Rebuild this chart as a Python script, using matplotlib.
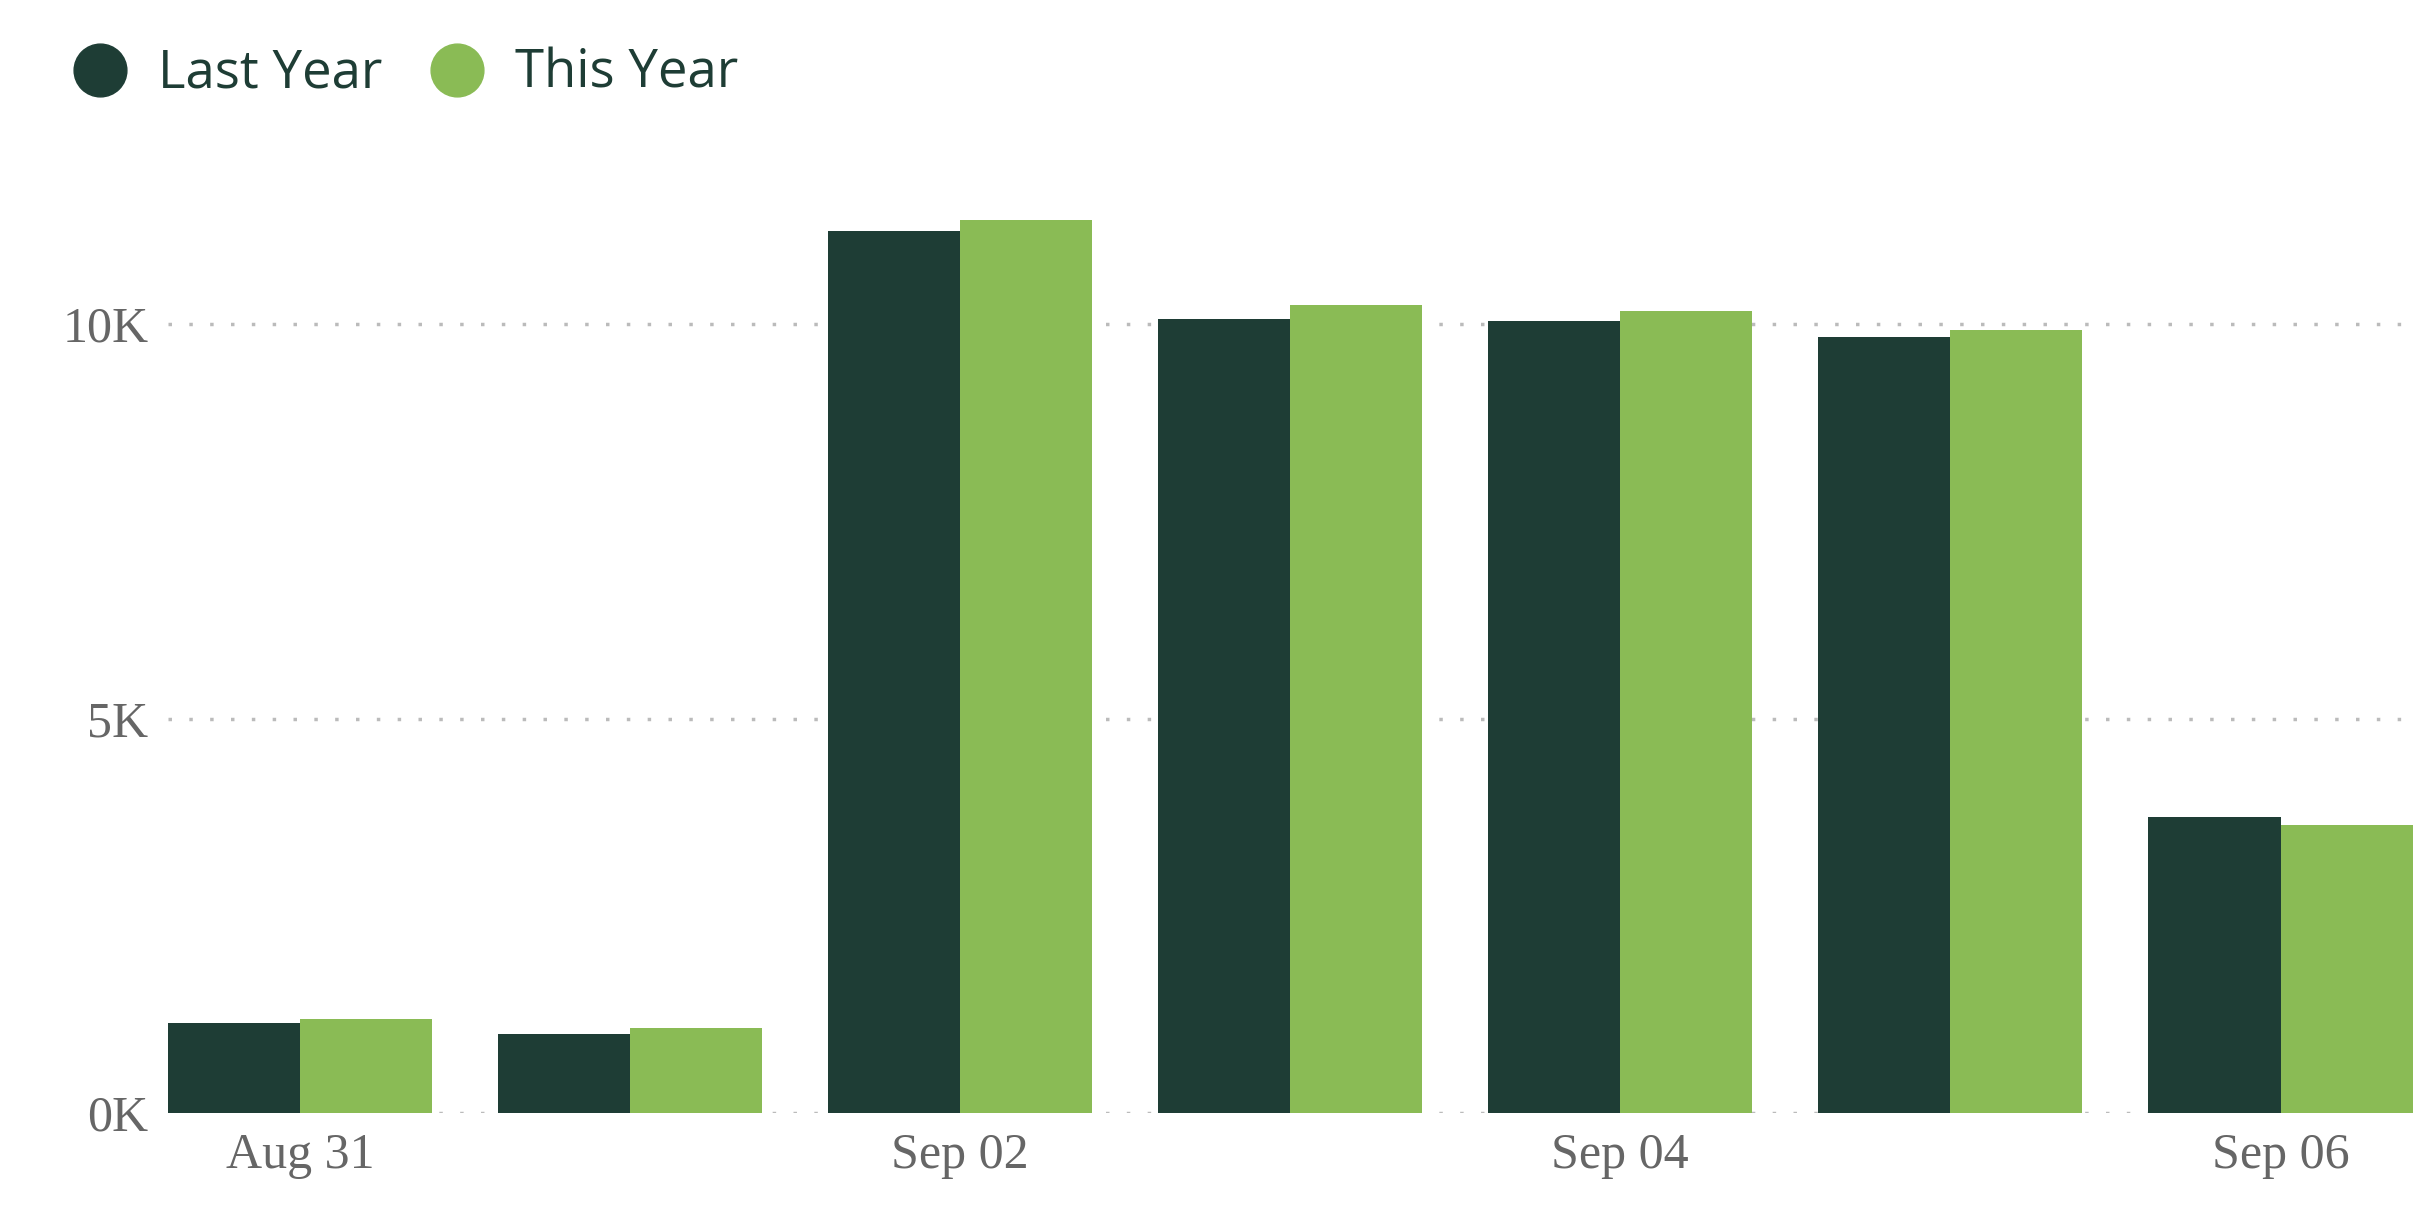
import matplotlib.pyplot as plt
import numpy as np
from matplotlib.lines import Line2D

days = ['Aug 31', 'Sep 01', 'Sep 02', 'Sep 03', 'Sep 04', 'Sep 05', 'Sep 06']
last_year = [1140, 1000, 11180, 10060, 10040, 9840, 3750]
this_year = [1200, 1080, 11320, 10240, 10160, 9920, 3650]
tick_days = ['Aug 31', 'Sep 02', 'Sep 04', 'Sep 06']

dark = '#1E3D35'
light = '#8ABB55'

fig = plt.figure(figsize=(24.32, 12.22), dpi=100)
ax = fig.add_axes([0.069, 0.089, 0.923, 0.775])

x = np.arange(len(days))
w = 0.4
ax.bar(x - w / 2, last_year, w, color=dark, zorder=2)
ax.bar(x + w / 2, this_year, w, color=light, zorder=2)

ax.set_xlim(-0.4, 6.4)
ax.set_ylim(0, 12000)
ax.set_yticks([0, 5000, 10000])
ax.set_yticklabels(['0K', '5K', '10K'])
ax.set_xticks([days.index(d) for d in tick_days])
ax.set_xticklabels(tick_days)
for lab in ax.get_xticklabels() + ax.get_yticklabels():
    lab.set_fontfamily('Liberation Serif')
    lab.set_fontsize(36)
    lab.set_color('#666666')
ax.tick_params(length=0, pad=14)
ax.grid(axis='y', color='#BBBBBB', linestyle=(0, (1, 5)), linewidth=2.5, zorder=0)
for s in ax.spines.values():
    s.set_visible(False)

handles = [Line2D([], [], marker='o', linestyle='', markersize=38, color=dark),
           Line2D([], [], marker='o', linestyle='', markersize=38, color=light)]
fig.legend(handles, ['Last Year', 'This Year'], loc='upper left', bbox_to_anchor=(0.0, 1.0),
           ncol=2, frameon=False, handletextpad=0.1, columnspacing=0.4,
           prop={'family': 'Open Sans', 'size': 38}, labelcolor='#1E3D35')

fig.savefig('out.png', dpi=100)
